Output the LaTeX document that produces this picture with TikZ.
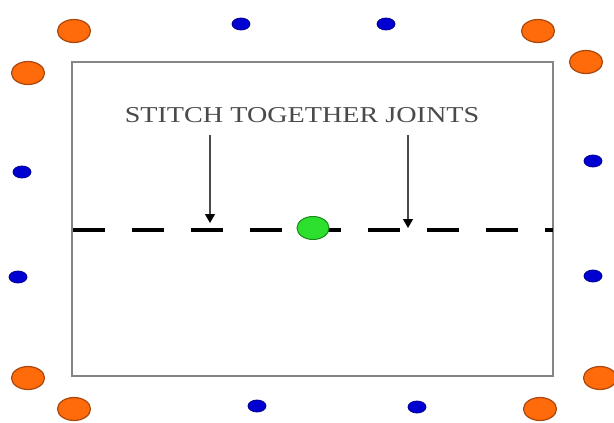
\documentclass[tikz,border=0pt]{standalone}
\usepackage{fontspec}
\setmainfont{Liberation Serif}
\usetikzlibrary{arrows.meta,shapes.geometric}
\definecolor{orfill}{HTML}{FF6A0A}
\definecolor{ordraw}{HTML}{A8480E}
\definecolor{blfill}{HTML}{0000D0}
\definecolor{bldraw}{HTML}{000090}
\definecolor{grfill}{HTML}{2EE02E}
\definecolor{grdraw}{HTML}{1A8A1A}
\definecolor{boxgray}{HTML}{858585}
\definecolor{txtgray}{HTML}{4A4A4A}
\begin{document}
\begin{tikzpicture}[x=1pt,y=-1pt,
  orangedot/.style={ellipse,draw=ordraw,line width=1.2pt,fill=orfill,minimum width=33pt,minimum height=23pt,inner sep=0pt},
  bluedot/.style={ellipse,draw=bldraw,line width=0.8pt,fill=blfill,minimum width=18pt,minimum height=12pt,inner sep=0pt},
  greendot/.style={ellipse,draw=grdraw,line width=1pt,fill=grfill,minimum width=32pt,minimum height=23pt,inner sep=0pt},
  fieldbox/.style={draw=boxgray,line width=2pt},
  joinline/.style={line width=4pt,dash pattern=on 32pt off 27pt},
  pointer/.style={draw=txtgray,line width=1.3pt,-{Triangle[length=9pt,width=10pt,color=black]}},
  caption/.style={font=\fontsize{22.7}{24}\selectfont,text=txtgray,xscale=1.24,inner sep=0pt}]
\useasboundingbox (0,0) rectangle (614,423);
\fill[white] (0,0) rectangle (614,423);
% field
\draw[fieldbox] (72,62) rectangle (553,376);
% orange cones
\node[orangedot] (o1) at (74,31) {};
\node[orangedot] (o2) at (28,73) {};
\node[orangedot] (o3) at (538,31) {};
\node[orangedot] (o4) at (586,62) {};
\node[orangedot] (o5) at (28,378) {};
\node[orangedot] (o6) at (74,409) {};
\node[orangedot] (o7) at (540,409) {};
\node[orangedot] (o8) at (600,378) {};
% blue markers
\node[bluedot] (b1) at (241,24) {};
\node[bluedot] (b2) at (386,24) {};
\node[bluedot] (b3) at (22,172) {};
\node[bluedot] (b4) at (18,277) {};
\node[bluedot] (b5) at (593,161) {};
\node[bluedot] (b6) at (593,276) {};
\node[bluedot] (b7) at (257,406) {};
\node[bluedot] (b8) at (417,407) {};
% dashed joint line
\coordinate (lineL) at (73,230);
\coordinate (lineR) at (553,230);
\draw[joinline] (lineL) -- (lineR);
\node[greendot] (g) at (313,228) {};
% caption and pointers
\node[caption] (cap) at (302,115) {STITCH TOGETHER JOINTS};
\coordinate (s1) at (210,135);
\coordinate (t1) at (210,223);
\coordinate (s2) at (408,135);
\coordinate (t2) at (408,228);
\draw[pointer] (s1) -- (t1);
\draw[pointer] (s2) -- (t2);
\end{tikzpicture}
\end{document}
